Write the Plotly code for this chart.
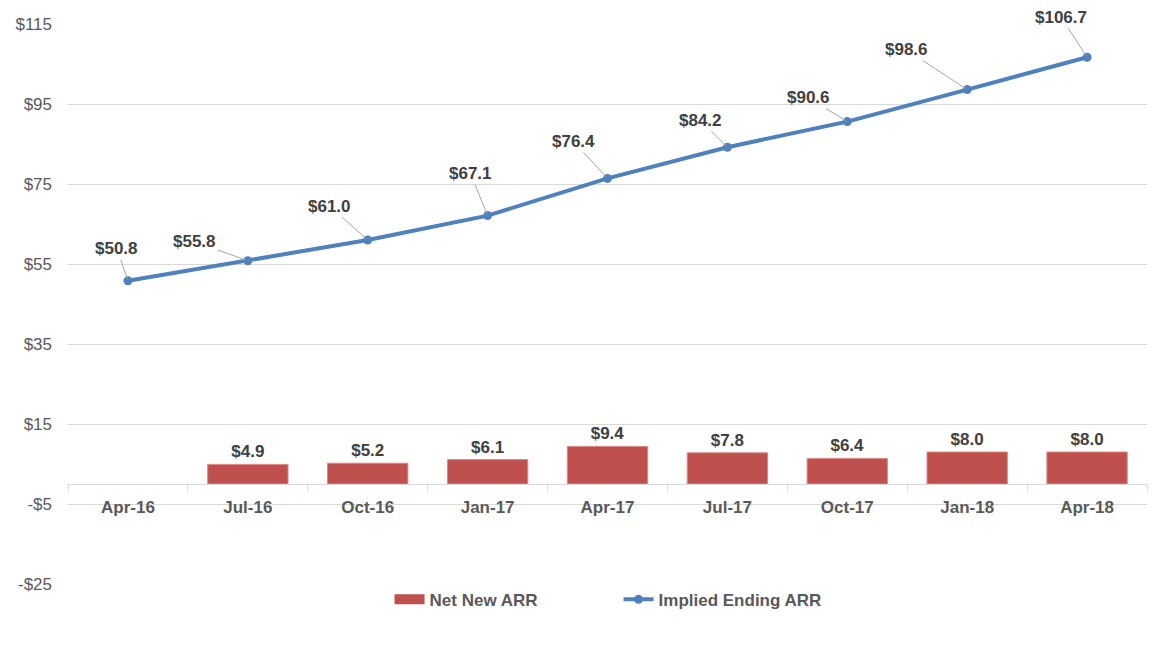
import plotly.graph_objects as go

categories = ["Apr-16", "Jul-16", "Oct-16", "Jan-17", "Apr-17", "Jul-17", "Oct-17", "Jan-18", "Apr-18"]
net_new_arr = [None, 4.9, 5.2, 6.1, 9.4, 7.8, 6.4, 8.0, 8.0]
implied_ending_arr = [50.8, 55.8, 61.0, 67.1, 76.4, 84.2, 90.6, 98.6, 106.7]
y_tick_values = [-25, -5, 15, 35, 55, 75, 95, 115]
y_tick_labels = ["-$25", "-$5", "$15", "$35", "$55", "$75", "$95", "$115"]

# label offsets (pixels) for the line data labels
label_dx = [-11, -53, -38, -17, -34, -27, -39, -61, -26]
label_dy = [-32, -19, -34, -42, -37, -27, -24, -40, -40]

FONT = "Liberation Sans, Arial, sans-serif"
RED = "#C0504D"
BLUE = "#4F81BD"

fig = go.Figure()
fig.add_trace(go.Bar(
    x=categories, y=net_new_arr, name="Net New ARR", showlegend=False,
    marker=dict(color=RED, line=dict(color="#D88A88", width=1)),
    width=0.67,
    text=[f"${v:.1f}" if v is not None else "" for v in net_new_arr],
    textposition="outside", cliponaxis=False,
    textfont=dict(family=FONT, size=17, color="#404040", weight="bold"),
))
# legend entry for the bars (wide swatch)
fig.add_trace(go.Scatter(
    x=[None], y=[None], name="Net New ARR", mode="lines",
    line=dict(color=RED, width=10),
))
fig.add_trace(go.Scatter(
    x=categories, y=implied_ending_arr, name="Implied Ending ARR",
    mode="lines+markers",
    line=dict(color=BLUE, width=4),
    marker=dict(color=BLUE, size=9),
))

for c, v, dx, dy in zip(categories, implied_ending_arr, label_dx, label_dy):
    fig.add_annotation(
        x=c, y=v, text=f"<b>${v:.1f}</b>", showarrow=True, arrowhead=0,
        arrowwidth=1, arrowcolor="#A6A6A6", ax=dx, ay=dy, standoff=2,
        font=dict(family=FONT, size=17, color="#404040"),
    )

fig.update_layout(
    width=1172, height=656,
    margin=dict(l=68, r=25, t=24, b=72),
    plot_bgcolor="white", paper_bgcolor="white",
    font=dict(family=FONT, size=17, color="#595959"),
    showlegend=True,
    legend=dict(orientation="h", x=0.298, xanchor="left", y=0.004, yanchor="top",
                font=dict(family=FONT, size=17, color="#595959", weight="bold"),
                entrywidth=184, entrywidthmode="pixels", traceorder="normal"),
    xaxis=dict(
        type="category", anchor="free", position=25 / 140,
        showline=True, linecolor="#D9D9D9", linewidth=1,
        ticks="outside", tickson="boundaries", ticklen=6, tickcolor="#D9D9D9",
        showgrid=False, ticklabelstandoff=8,
        tickfont=dict(family=FONT, size=17, color="#595959", weight="bold"),
        range=[-0.5, 8.5],
    ),
    yaxis=dict(
        range=[-25, 115], tickvals=y_tick_values, ticktext=y_tick_labels,
        showgrid=True, gridcolor="#D9D9D9", gridwidth=1, zeroline=False,
        tickfont=dict(family=FONT, size=17, color="#595959"),
        ticks="", domain=[0, 1], ticklabelstandoff=15,
    ),
)

fig.write_html("out.html")
